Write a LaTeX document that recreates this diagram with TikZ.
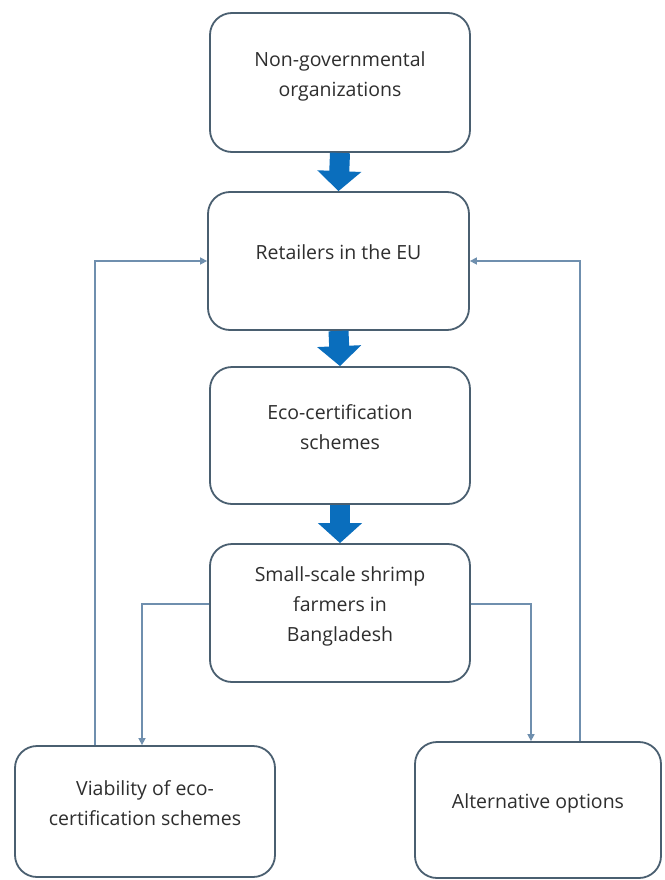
\documentclass[tikz,border=0pt]{standalone}
\usepackage{fontspec}
\setmainfont{Open Sans}
\usetikzlibrary{arrows.meta,calc}
\definecolor{boxc}{HTML}{4A5F70}
\definecolor{thinc}{HTML}{6F8FAE}
\definecolor{thickc}{HTML}{0A6EBD}
\definecolor{txtc}{HTML}{2E2E2E}
\tikzset{
  flowbox/.style={draw=boxc, line width=1.8bp, rounded corners=22bp, fill=white,
    align=center, inner sep=0pt, text=txtc, text depth=17bp,
    font=\fontsize{19.5bp}{30bp}\selectfont},
  bigarrow/.style={draw=thickc, line width=20bp, -{Triangle[length=20bp,width=43bp]}},
  thinarrow/.style={draw=thinc, line width=1.5bp, -{Triangle[length=7bp,width=7bp]}}
}
\begin{document}
\begin{tikzpicture}[x=1bp,y=-1bp]
\useasboundingbox[fill=white] (0,0) rectangle (665,880);
\node[flowbox, minimum width=260bp, minimum height=139bp] (ngo) at (340,82.5) {Non-governmental\\organizations};
\node[flowbox, minimum width=261bp, minimum height=138bp] (ret) at (338.5,261) {Retailers in the EU};
\node[flowbox, minimum width=260bp, minimum height=137bp] (eco) at (340,435.5) {Eco-certification\\schemes};
\node[flowbox, minimum width=260bp, minimum height=138bp] (small) at (340,613) {Small-scale shrimp\\farmers in\\Bangladesh};
\node[flowbox, minimum width=260bp, minimum height=131bp] (via) at (145,811.5) {Viability of eco-\\certification schemes};
\node[flowbox, minimum width=246bp, minimum height=136bp] (alt) at (538,810) {Alternative options};
\coordinate (lx) at (95,0);
\coordinate (rx) at (580,0);
\coordinate (vx) at (142,0);
\coordinate (ax) at (531,0);
\draw[bigarrow] (ngo.south) -- (ret.north);
\draw[bigarrow] (ret.south) -- (eco.north);
\draw[bigarrow] (eco.south) -- (small.north);
\draw[thinarrow] (via.north -| lx) |- (ret.west);
\draw[thinarrow] (alt.north -| rx) |- (ret.east);
\draw[thinarrow] ($(small.west)+(0,-9)$) -| (via.north -| vx);
\draw[thinarrow] ($(small.east)+(0,-9)$) -| (alt.north -| ax);
\end{tikzpicture}
\end{document}
